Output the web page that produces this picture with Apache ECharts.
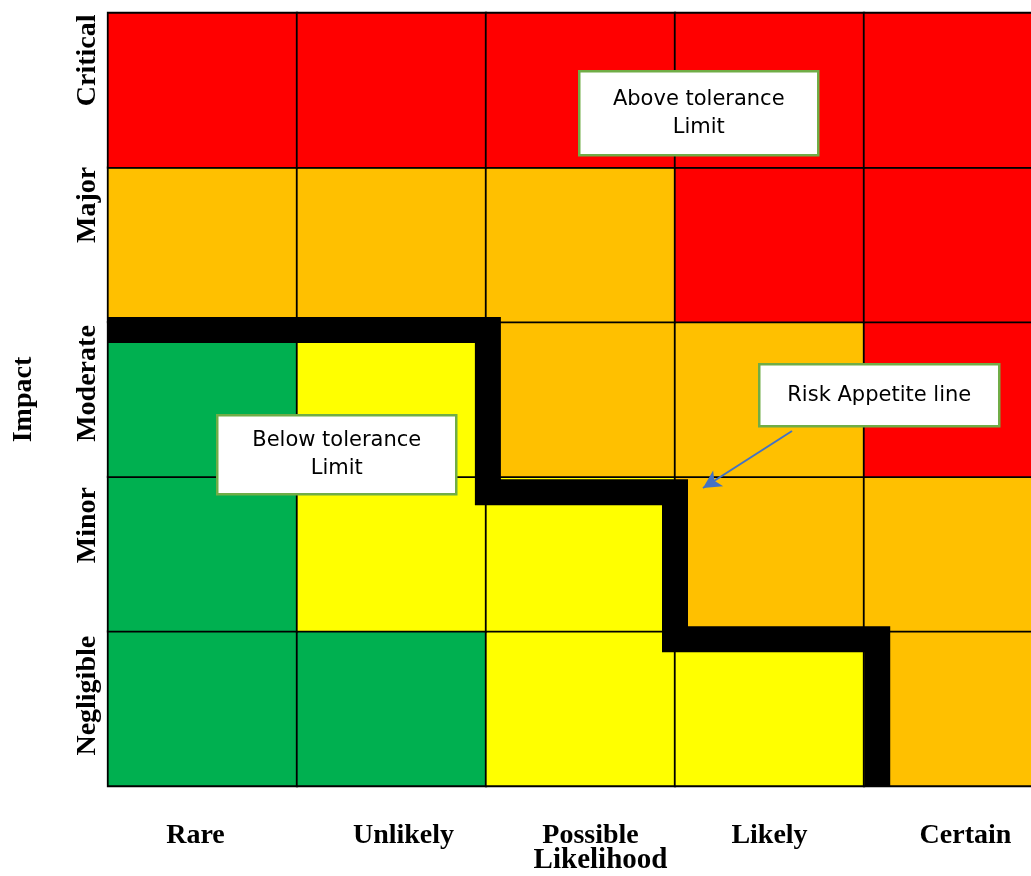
<!DOCTYPE html>
<html lang="en">
<head>
    <meta charset="UTF-8">
    <title>Risk Appetite Matrix</title>
    <style>
        html, body {
            margin: 0;
            padding: 0;
            background: #fff;
        }
        #chart {
            width: 1031px;
            height: 876px;
        }
    </style>
    <script src="https://cdn.jsdelivr.net/npm/echarts@6/dist/echarts.min.js"></script>
</head>
<body>
    <div id="chart"></div>
    <script>
        // categories
        const likelihood = ['Rare', 'Unlikely', 'Possible', 'Likely', 'Certain'];
        const impact = ['Negligible', 'Minor', 'Moderate', 'Major', 'Critical']; // bottom -> top

        // risk level per cell, one row per impact level (bottom -> top)
        // 0 = green, 1 = yellow, 2 = amber, 3 = red
        const levelNegligible = [0, 0, 1, 1, 2];
        const levelMinor      = [0, 1, 1, 2, 2];
        const levelModerate   = [0, 1, 2, 2, 3];
        const levelMajor      = [2, 2, 2, 3, 3];
        const levelCritical   = [3, 3, 3, 3, 3];
        const levelRows = [levelNegligible, levelMinor, levelModerate, levelMajor, levelCritical];

        // risk appetite step line, in cell units (x: likelihood, y: impact)
        const appetiteX = [0, 2.01, 2.01, 3, 3, 4.07, 4.07];
        const appetiteY = [2.95, 2.95, 1.9, 1.9, 0.95, 0.95, 0];

        const cells = [];
        levelRows.forEach((row, y) => {
            row.forEach((v, x) => cells.push([x, y, v]));
        });
        const appetiteLine = appetiteX.map((x, i) => [x, appetiteY[i]]);

        const serif = '"Liberation Serif", "Times New Roman", serif';
        const sans = '"DejaVu Sans", Tahoma, sans-serif';

        // labels in the original sit a little off the cell centres (px, + = right / up)
        const xLabelShift = { Rare: -7, Unlikely: 12, Possible: 10, Likely: 0, Certain: 7 };
        const yLabelShift = { Negligible: 13, Minor: 29, Moderate: 16, Major: 40, Critical: 30 };

        const labelFont = { color: '#000', fontFamily: serif, fontWeight: 'bold', fontSize: 28 };
        function shiftedRich(shifts) {
            const rich = {};
            Object.keys(shifts).forEach(k => {
                const d = shifts[k];
                rich[k] = Object.assign({}, labelFont, {
                    padding: d >= 0 ? [0, 0, 0, 2 * d] : [0, -2 * d, 0, 0]
                });
            });
            return rich;
        }

        // annotation box helper
        function noteBox(x, y, w, h, text) {
            return {
                type: 'group',
                left: x,
                top: y,
                z: 100,
                children: [
                    {
                        type: 'rect',
                        z: 100,
                        shape: { x: 0, y: 0, width: w, height: h },
                        style: { fill: '#fff', stroke: '#70AD47', lineWidth: 2.5 }
                    },
                    {
                        type: 'text',
                        z: 101,
                        x: w / 2,
                        y: h / 2,
                        style: {
                            text: text,
                            fill: '#000',
                            font: '21px ' + sans,
                            align: 'center',
                            verticalAlign: 'middle',
                            lineHeight: 28
                        }
                    }
                ]
            };
        }

        const chart = echarts.init(document.getElementById('chart'));
        chart.setOption({
            animation: false,
            grid: { left: 108, top: 13, width: 945, height: 773, containLabel: false, outerBoundsMode: 'none' },
            xAxis: [
                {
                    type: 'category',
                    data: likelihood,
                    position: 'bottom',
                    axisLine: { show: false },
                    axisTick: { show: false },
                    splitLine: { show: false },
                    axisLabel: Object.assign({}, labelFont, {
                        interval: 0,
                        margin: 36,
                        formatter: v => '{' + v + '|' + v + '}',
                        rich: shiftedRich(xLabelShift)
                    }),
                    name: 'Likelihood',
                    nameLocation: 'middle',
                    nameGap: 60,
                    nameMoveOverlap: false,
                    nameTextStyle: {
                        color: '#000',
                        fontFamily: serif,
                        fontWeight: 'bold',
                        fontSize: 29,
                        padding: [0, 0, 0, 40]
                    }
                },
                { type: 'value', min: 0, max: 5, show: false, position: 'top' }
            ],
            yAxis: [
                {
                    type: 'category',
                    data: impact,
                    axisLine: { show: false },
                    axisTick: { show: false },
                    splitLine: { show: false },
                    axisLabel: Object.assign({}, labelFont, {
                        interval: 0,
                        rotate: 90,
                        margin: 6,
                        formatter: v => '{' + v + '|' + v + '}',
                        rich: shiftedRich(yLabelShift)
                    }),
                    name: 'Impact',
                    nameLocation: 'middle',
                    nameRotate: 90,
                    nameGap: 70,
                    nameMoveOverlap: false,
                    nameTextStyle: {
                        color: '#000',
                        fontFamily: serif,
                        fontWeight: 'bold',
                        fontSize: 28
                    }
                },
                { type: 'value', min: 0, max: 5, show: false, position: 'right' }
            ],
            visualMap: {
                show: false,
                type: 'piecewise',
                dimension: 2,
                seriesIndex: 0,
                pieces: [
                    { value: 0, color: '#00B050' },
                    { value: 1, color: '#FFFF00' },
                    { value: 2, color: '#FFC000' },
                    { value: 3, color: '#FF0000' }
                ]
            },
            series: [
                {
                    type: 'heatmap',
                    data: cells,
                    itemStyle: { borderColor: '#000', borderWidth: 1.8 },
                    emphasis: { disabled: true },
                    silent: true
                },
                {
                    type: 'line',
                    xAxisIndex: 1,
                    yAxisIndex: 1,
                    data: appetiteLine,
                    showSymbol: false,
                    silent: true,
                    z: 5,
                    lineStyle: { color: '#000', width: 26, cap: 'butt', join: 'miter' },
                    markLine: {
                        silent: true,
                        symbol: ['none', 'arrow'],
                        symbolSize: [14, 18],
                        label: { show: false },
                        lineStyle: { color: '#4472C4', width: 2, type: 'solid' },
                        data: [[{ x: 792, y: 431 }, { x: 703, y: 488 }]]
                    }
                }
            ],
            graphic: [
                noteBox(578, 70, 239, 84, 'Above tolerance\nLimit'),
                noteBox(216, 414, 239, 79, 'Below tolerance\nLimit'),
                noteBox(758, 363, 240, 62, 'Risk Appetite line')
            ]
        });
    </script>
</body>
</html>
